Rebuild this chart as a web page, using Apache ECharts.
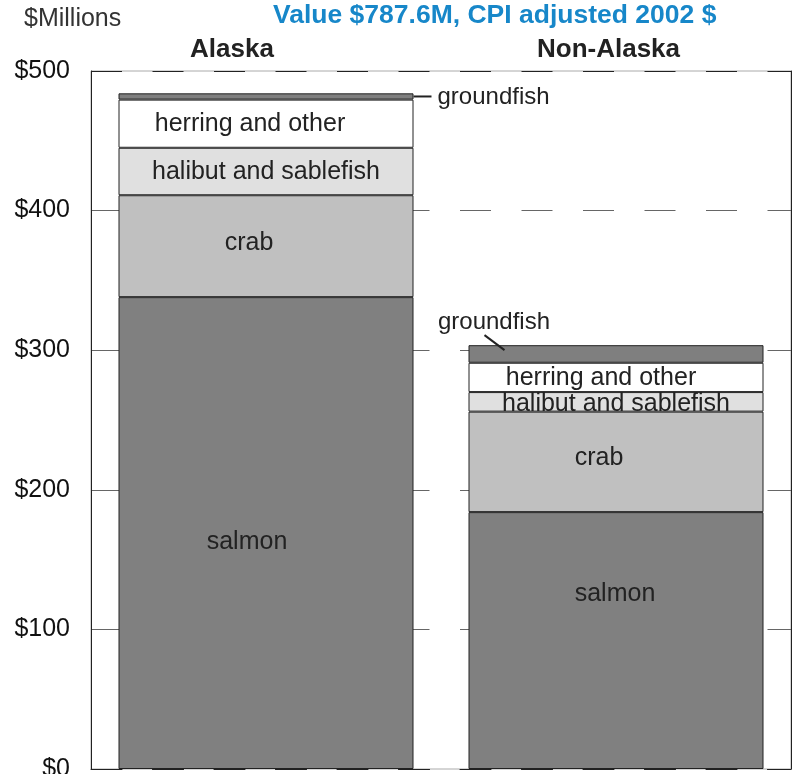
<!DOCTYPE html>
<html>
<head>
<meta charset="utf-8">
<script src="https://cdn.jsdelivr.net/npm/echarts@6/dist/echarts.min.js"></script>
<style>html,body{margin:0;padding:0;background:#fff;overflow:hidden}#c{width:797px;height:774px}</style>
</head>
<body>
<div id="c"></div>
<script>
const categories = ['Alaska', 'Non-Alaska'];
const salmon = [338, 184];
const crab = [73, 72];
const halibut = [34, 14];
const herring = [34.5, 21];
const groundfish = [4.5, 12.6];
const yTickValues = [0, 100, 200, 300, 400, 500];
const segmentNames = ['salmon', 'crab', 'halibut and sablefish', 'herring and other', 'groundfish'];
const unitLabel = '$Millions';
const headline = 'Value $787.6M, CPI adjusted 2002 $';

const FONT = '"Liberation Sans", Arial, Helvetica, sans-serif';
const BAR_W = 295;
const DASH = [31, 30.5];

function withLabels(name, values, offsets, extra) {
  return values.map((v, i) => ({
    value: v,
    label: Object.assign({
      show: true, position: 'inside', fontSize: 25, color: '#222', fontFamily: FONT,
      formatter: name, offset: offsets[i]
    }, extra ? extra[i] : {})
  }));
}

const chart = echarts.init(document.getElementById('c'));
const option = {
  animation: false,
  backgroundColor: '#fff',
  title: [
    { text: unitLabel, left: 24, top: 7, padding: 0, textStyle: { fontSize: 25, fontWeight: 'normal', color: '#333', fontFamily: FONT } },
    { text: headline, left: 273, top: 2, padding: 0, textStyle: { fontSize: 26.5, fontWeight: 'bold', color: '#1787c9', fontFamily: FONT } },
    { text: categories[0], left: 190, top: 37, padding: 0, textStyle: { fontSize: 26, fontWeight: 'bold', color: '#222', fontFamily: FONT } },
    { text: categories[1], left: 537, top: 37, padding: 0, textStyle: { fontSize: 26, fontWeight: 'bold', color: '#222', fontFamily: FONT } }
  ],
  grid: { left: 91, top: 71, width: 700, height: 698, show: true, borderColor: '#aaa', borderWidth: 1, containLabel: false, outerBoundsMode: 'none' },
  xAxis: {
    type: 'category', data: categories,
    axisLine: { show: true, lineStyle: { color: '#222', type: DASH } },
    axisTick: { show: false }, axisLabel: { show: false }
  },
  yAxis: [{
    type: 'value', min: yTickValues[0], max: yTickValues[yTickValues.length - 1], interval: 100,
    axisLine: { show: true, lineStyle: { color: '#222' } },
    axisTick: { show: false },
    axisLabel: { formatter: v => '$' + v, fontSize: 25, color: '#111', margin: 21, fontFamily: FONT },
    splitLine: { show: true, lineStyle: { color: ['#222', '#666', '#666', '#666', '#666', '#222'], width: 1, type: DASH } }
  }, {
    type: 'value', position: 'right', min: yTickValues[0], max: yTickValues[yTickValues.length - 1], interval: 100,
    axisLine: { show: true, lineStyle: { color: '#222' } },
    axisTick: { show: false }, axisLabel: { show: false }, splitLine: { show: false }
  }],
  series: [
    {
      name: segmentNames[0], type: 'bar', stack: 'total', barWidth: BAR_W,
      itemStyle: { color: '#808080', borderColor: '#222', borderWidth: 1 },
      data: withLabels(segmentNames[0], salmon, [[-19, 9], [-1, -46]])
    },
    {
      name: segmentNames[1], type: 'bar', stack: 'total', barWidth: BAR_W,
      itemStyle: { color: '#c0c0c0', borderColor: '#222', borderWidth: 1 },
      data: withLabels(segmentNames[1], crab, [[-17, -3], [-17, -4]])
    },
    {
      name: segmentNames[2], type: 'bar', stack: 'total', barWidth: BAR_W,
      itemStyle: { color: '#e0e0e0', borderColor: '#222', borderWidth: 1 },
      data: withLabels(segmentNames[2], halibut, [[0, 1], [0, 2]])
    },
    {
      name: segmentNames[3], type: 'bar', stack: 'total', barWidth: BAR_W,
      itemStyle: { color: '#ffffff', borderColor: '#222', borderWidth: 1 },
      data: withLabels(segmentNames[3], herring, [[-16, 0], [-15, 1]])
    },
    {
      name: segmentNames[4], type: 'bar', stack: 'total', barWidth: BAR_W,
      itemStyle: { color: '#7f7f7f', borderColor: '#222', borderWidth: 1 },
      data: withLabels(segmentNames[4], groundfish, [[0, 1], [-122, -6]], [{ position: 'right', distance: 24, fontSize: 24 }, { position: 'top', distance: 5, fontSize: 24 }])
    }
  ]
};
chart.setOption(option);

// leader lines for the groundfish labels, positioned through the chart's scales
const totals = categories.map((_, i) => salmon[i] + crab[i] + halibut[i] + herring[i] + groundfish[i]);
const pA = chart.convertToPixel({ gridIndex: 0 }, [0, totals[0] - groundfish[0] / 2]);
const pB = chart.convertToPixel({ gridIndex: 0 }, [1, totals[1]]);
const rightA = pA[0] + BAR_W / 2;
const leftB = pB[0] - BAR_W / 2;
chart.setOption({
  graphic: [
    { type: 'line', shape: { x1: rightA, y1: pA[1], x2: rightA + 18, y2: pA[1] }, style: { stroke: '#222', lineWidth: 2 }, z: 100 },
    { type: 'line', shape: { x1: leftB + 16, y1: pB[1] - 10, x2: leftB + 36, y2: pB[1] + 5 }, style: { stroke: '#222', lineWidth: 2 }, z: 100 }
  ]
});
</script>
</body>
</html>
